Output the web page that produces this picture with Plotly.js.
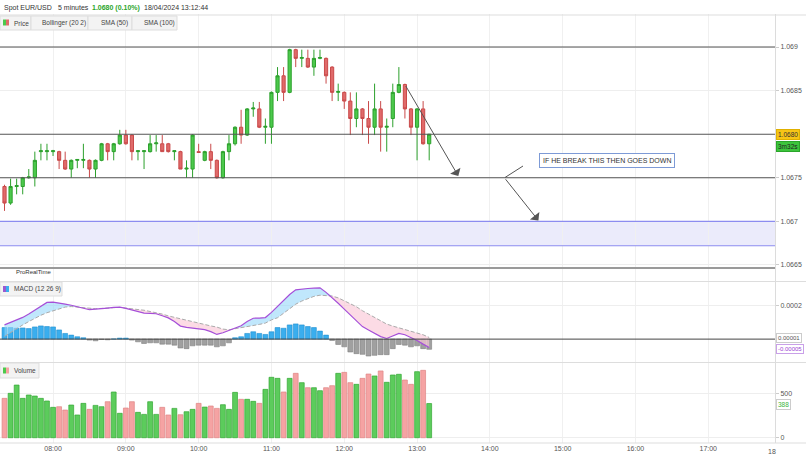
<!DOCTYPE html>
<html><head><meta charset="utf-8">
<script src="https://cdn.plot.ly/plotly-3.0.1.min.js"></script>
<style>html,body{margin:0;padding:0;background:#fff}#c{width:806px;height:457px}</style>
</head><body><div id="c"></div>
<script>
const times = ["07:20","07:25","07:30","07:35","07:40","07:45","07:50","07:55",
"08:00","08:05","08:10","08:15","08:20","08:25","08:30","08:35","08:40","08:45","08:50","08:55",
"09:00","09:05","09:10","09:15","09:20","09:25","09:30","09:35","09:40","09:45","09:50","09:55",
"10:00","10:05","10:10","10:15","10:20","10:25","10:30","10:35","10:40","10:45","10:50","10:55",
"11:00","11:05","11:10","11:15","11:20","11:25","11:30","11:35","11:40","11:45","11:50","11:55",
"12:00","12:05","12:10","12:15","12:20","12:25","12:30","12:35","12:40","12:45","12:50","12:55",
"13:00","13:05","13:10"];
const openP = [1.06740,1.06721,1.06740,1.06740,1.06750,1.06750,1.06780,1.06780,1.06780,1.06780,
1.06770,1.06760,1.06770,1.06770,1.06770,1.06760,1.06770,1.06789,1.06780,1.06789,
1.06799,1.06799,1.06780,1.06780,1.06780,1.06789,1.06789,1.06789,1.06780,1.06780,
1.06760,1.06760,1.06780,1.06770,1.06780,1.06770,1.06750,1.06780,1.06789,1.06808,
1.06799,1.06829,1.06829,1.06808,1.06808,1.06848,1.06867,1.06848,1.06897,1.06887,
1.06887,1.06877,1.06887,1.06887,1.06877,1.06848,1.06848,1.06838,1.06818,1.06829,
1.06818,1.06808,1.06829,1.06808,1.06818,1.06848,1.06857,1.06829,1.06808,1.06829,1.06789];
const highP = [1.06742,1.06749,1.06749,1.06751,1.06760,1.06780,1.06789,1.06789,1.06782,1.06781,
1.06780,1.06771,1.06771,1.06789,1.06771,1.06771,1.06790,1.06790,1.06790,1.06805,
1.06805,1.06800,1.06781,1.06781,1.06799,1.06799,1.06799,1.06790,1.06781,1.06781,
1.06770,1.06800,1.06789,1.06781,1.06789,1.06771,1.06781,1.06799,1.06809,1.06828,
1.06830,1.06837,1.06837,1.06818,1.06849,1.06877,1.06877,1.06898,1.06898,1.06897,
1.06897,1.06897,1.06897,1.06888,1.06878,1.06858,1.06849,1.06848,1.06848,1.06830,
1.06838,1.06858,1.06838,1.06818,1.06858,1.06877,1.06858,1.06830,1.06830,1.06838,1.06800];
const lowP = [1.06712,1.06719,1.06731,1.06731,1.06749,1.06740,1.06770,1.06770,1.06775,1.06760,
1.06759,1.06750,1.06761,1.06761,1.06750,1.06750,1.06769,1.06770,1.06770,1.06788,
1.06788,1.06770,1.06770,1.06760,1.06779,1.06780,1.06780,1.06779,1.06770,1.06760,
1.06750,1.06750,1.06779,1.06769,1.06760,1.06749,1.06749,1.06770,1.06787,1.06789,
1.06798,1.06820,1.06807,1.06789,1.06789,1.06838,1.06838,1.06847,1.06877,1.06877,
1.06876,1.06867,1.06886,1.06858,1.06838,1.06838,1.06829,1.06799,1.06808,1.06799,
1.06789,1.06799,1.06780,1.06780,1.06808,1.06847,1.06818,1.06799,1.06770,1.06788,1.06770];
const closeP = [1.06721,1.06740,1.06741,1.06750,1.06751,1.06770,1.06781,1.06781,1.06781,1.06770,
1.06760,1.06770,1.06771,1.06771,1.06760,1.06770,1.06789,1.06780,1.06789,1.06799,
1.06789,1.06780,1.06781,1.06781,1.06789,1.06790,1.06780,1.06780,1.06781,1.06760,
1.06761,1.06799,1.06779,1.06780,1.06770,1.06750,1.06780,1.06789,1.06808,1.06799,
1.06829,1.06830,1.06808,1.06809,1.06848,1.06867,1.06848,1.06897,1.06887,1.06888,
1.06877,1.06887,1.06888,1.06867,1.06848,1.06849,1.06838,1.06818,1.06829,1.06818,
1.06808,1.06829,1.06808,1.06809,1.06848,1.06857,1.06829,1.06808,1.06829,1.06789,1.06800];
const volume = [447,504,598,447,485,473,447,417,345,352,314,371,258,390,322,367,352,409,519,277,
337,409,288,265,409,265,345,258,333,261,295,322,390,348,360,333,375,322,515,436,
436,413,390,549,686,674,519,674,731,625,568,568,534,568,591,731,742,625,606,674,
723,701,758,629,712,720,655,606,750,765,388];
// MACD (12 26 9) values, in units of 0.00001
const macdLine = [8.5,10,11.5,13,15,17.5,20,22,22.2,21.8,21,20.3,19.6,18.5,17.6,17.8,18.2,18.6,19,19.2,
18.4,17.5,16.5,15.6,15.4,15.2,14,12.7,10.5,7.8,7.0,6.6,6.2,5.7,4.5,2.8,3.8,5.2,6.5,8.0,
10.5,12.5,12.6,12.9,16,19.6,23,26.7,29.5,30,30.3,30.5,30.7,28,25,21.5,18,14.5,10.5,7.5,
5.5,3.5,1.5,0.4,2,3.4,2.6,1.0,-0.8,-3,-5];
const signalLine = [1.6,4,6.5,8.5,10.5,12.5,14.3,15.8,17,18.2,19.2,19.5,19.2,18.7,18.2,18.2,18.4,18.7,18.9,19,
18.6,18,17.7,17.3,16.6,16,15,13.9,13,12,11.3,10.5,9.7,8.7,7.9,7.2,6,5.6,6.2,6.6,
7.3,8.2,8.8,9.6,11.5,12.8,15.6,18.5,20.9,22.8,24.3,25.6,26.3,26.2,25.8,24.7,23,21.5,19.4,17,
15,13.5,11,9,7.8,6.7,5.8,4.7,3.6,2.6,1];
const macdHist = [6.9,6.9,6.5,6.7,6.3,7.3,7.9,7.5,7.3,5.5,3.4,2.4,1.4,0.8,-0.6,-1.0,-0.2,-0.4,0.1,0.6,
0.6,-0.6,-1.6,-2.6,-2.2,-2.2,-3.0,-3.0,-3.6,-5.3,-5.7,-4.0,-3.6,-3.6,-3.6,-4.6,-4.0,-2.2,0.8,1.4,
3.4,4.4,3.4,2.8,4.4,6.9,6.5,8.5,9.1,8.5,7.5,6.9,4.8,2.4,-0.8,-3.2,-4.6,-7.7,-8.7,-9.1,
-10.1,-9.7,-9.3,-9.3,-5.7,-3.2,-3.6,-4.6,-4.0,-5.7,-6.1];
const priceTicks = [1.0665,1.067,1.0675,1.0685,1.069];
const hLines = [1.069,1.068,1.0675];
const zoneLow = 1.06672, zoneHigh = 1.0670, baseLine = 1.066466;

const DAY = "2024-04-18 ";
const X = times.map(t => DAY + t);
const U = 1e-5;
const macdV = macdLine.map(v => v*U), sigV = signalLine.map(v => v*U), histV = macdHist.map(v => v*U);
const W = 775, H = 443;
const px = v => v / W, py = v => (H - v) / H;
const FONT = "Liberation Sans, Arial, sans-serif";

const GREEN = '#4cc94c', GREEN_L = '#2ca02c', RED = '#e06a6a', RED_L = '#c94a4a';
const volCol = closeP.map((c,i) => c >= openP[i] ? '#5ccc5c' : '#f5a3a3');
const volLine = closeP.map((c,i) => c >= openP[i] ? '#33a833' : '#e08585');

const traces = [
  {type:'candlestick', x:X, open:openP, high:highP, low:lowP, close:closeP, xaxis:'x2', yaxis:'y',
   increasing:{line:{color:GREEN_L,width:1}, fillcolor:GREEN},
   decreasing:{line:{color:RED_L,width:1}, fillcolor:RED}, whiskerwidth:0, hoverinfo:'skip', showlegend:false},
  {type:'bar', x:X, y:histV, xaxis:'x3', yaxis:'y2', marker:{color:histV.map(v=>v>=0?'#3aaeee':'#a0a0a0'), line:{color:histV.map(v=>v>=0?'#1e8fd0':'#808080'), width:0.6}}, width:240000, showlegend:false, hoverinfo:'skip'},
  {type:'scatter', mode:'lines', x:X, y:sigV, xaxis:'x3', yaxis:'y2', line:{width:0}, showlegend:false, hoverinfo:'skip'},
  {type:'scatter', mode:'lines', x:X, y:macdV.map((v,i)=>Math.max(v,sigV[i])), xaxis:'x3', yaxis:'y2', line:{width:0}, fill:'tonexty', fillcolor:'rgba(150,215,250,0.6)', showlegend:false, hoverinfo:'skip'},
  {type:'scatter', mode:'lines', x:X, y:sigV, xaxis:'x3', yaxis:'y2', line:{width:0}, showlegend:false, hoverinfo:'skip'},
  {type:'scatter', mode:'lines', x:X, y:macdV.map((v,i)=>Math.min(v,sigV[i])), xaxis:'x3', yaxis:'y2', line:{width:0}, fill:'tonexty', fillcolor:'rgba(250,200,215,0.65)', showlegend:false, hoverinfo:'skip'},
  {type:'scatter', mode:'lines', x:X, y:sigV, xaxis:'x3', yaxis:'y2', line:{color:'#aaaaaa', width:1, dash:'4px,2px'}, showlegend:false, hoverinfo:'skip'},
  {type:'scatter', mode:'lines', x:X, y:macdV, xaxis:'x3', yaxis:'y2', line:{color:'#a64fd8', width:1.2}, showlegend:false, hoverinfo:'skip'},
  {type:'bar', x:X, y:volume, xaxis:'x', yaxis:'y3', marker:{color:volCol, line:{color:volLine, width:0.7}}, width:240000, showlegend:false, hoverinfo:'skip'}
];

const xr = [DAY+"07:16:17", DAY+"17:55:00"];
const xbase = {type:'date', range:xr, showgrid:true, gridcolor:'#f0f0f0', zeroline:false, showline:false, ticks:'', dtick:3600000, tick0:DAY+"08:00", tickformat:'%H:%M'};
const ybase = {side:'right', showgrid:true, gridcolor:'#eeeeee', zeroline:false, showline:true, linecolor:'#dcdcdc', ticks:'outside', ticklen:3, tickcolor:'#cccccc', tickfont:{size:7, color:'#555', family:FONT}, fixedrange:true};

const shapes = [];
hLines.forEach(v => shapes.push({type:'line', xref:'paper', x0:0, x1:1, yref:'y', y0:v, y1:v, line:{color:'#555', width:1.1}}));
shapes.push({type:'rect', xref:'paper', x0:0, x1:1, yref:'y', y0:zoneLow, y1:zoneHigh, fillcolor:'#ebebfb', line:{width:0}, layer:'below'});
shapes.push({type:'line', xref:'paper', x0:0, x1:1, yref:'y', y0:zoneHigh, y1:zoneHigh, line:{color:'#8c8cf0', width:1.2}});
shapes.push({type:'line', xref:'paper', x0:0, x1:1, yref:'y', y0:zoneLow, y1:zoneLow, line:{color:'#8c8cf0', width:1.2}});
shapes.push({type:'line', xref:'paper', x0:0, x1:1, yref:'y', y0:baseLine, y1:baseLine, line:{color:'#9a9a9a', width:2}});
shapes.push({type:'line', xref:'paper', x0:0, x1:1, yref:'y2', y0:0, y1:0, line:{color:'#444', width:1}});
// panel separators
[py(15), py(281.5), py(362.5), 0].forEach(v => shapes.push({type:'line', xref:'paper', x0:0, x1:1.04, yref:'paper', y0:v, y1:v, line:{color:'#dddddd', width:1}}));
// header tabs
[[0,31],[31,88],[88,132],[132,177]].forEach(b => shapes.push({type:'rect', xref:'paper', yref:'paper', x0:px(b[0]), x1:px(b[1]), y0:py(30), y1:py(16), fillcolor:'#f3f3f3', line:{color:'#dddddd', width:1}}));
shapes.push({type:'rect', xref:'paper', yref:'paper', x0:px(0), x1:px(62), y0:py(296), y1:py(282), fillcolor:'#f3f3f3', line:{color:'#dddddd', width:1}});
shapes.push({type:'rect', xref:'paper', yref:'paper', x0:px(0), x1:px(39), y0:py(378), y1:py(363), fillcolor:'#f3f3f3', line:{color:'#dddddd', width:1}});
// legend icons
const icon = (x, y, c1, c2) => {
  shapes.push({type:'rect', xref:'paper', yref:'paper', x0:px(x), x1:px(x+3), y0:py(y+6), y1:py(y), fillcolor:c1, line:{width:0}});
  shapes.push({type:'rect', xref:'paper', yref:'paper', x0:px(x+3), x1:px(x+6), y0:py(y+6), y1:py(y), fillcolor:c2, line:{width:0}});
};
icon(3, 19.5, '#4cc94c', '#e06a6a');
icon(3, 286, '#9b59d0', '#3aaeee');
icon(3, 367.5, '#4cc94c', '#f5a3a3');
// short line from note box toward arrow start
shapes.push({type:'line', xref:'paper', yref:'paper', x0:px(523), y0:py(166), x1:px(505), y1:py(177.5), line:{color:'#555', width:1}});

const ann = (x, y, text, opt={}) => Object.assign({xref:'paper', yref:'paper', x:px(x), y:py(y), text, showarrow:false, xanchor:'left', yanchor:'middle', font:{size:8, color:'#333', family:FONT}}, opt);
const HF = {size:7, color:'#333', family:FONT};
const TF = {size:6.5, color:'#444', family:FONT};
const annotations = [
  ann(2, 8, 'Spot EUR/USD', {font:HF}),
  ann(56, 8, '5 minutes', {font:HF}),
  ann(90, 8, '<b>1.0680 (0.10%)</b>', {font:{size:7, color:'#2aa52a', family:FONT}}),
  ann(142, 8, '18/04/2024 13:12:44', {font:HF}),
  ann(12, 23, 'Price', {font:TF}),
  ann(40, 23, 'Bollinger (20 2)', {font:TF}),
  ann(99, 23, 'SMA (50)', {font:TF}),
  ann(142, 23, 'SMA (100)', {font:TF}),
  ann(12, 289, 'MACD (12 26 9)', {font:TF}),
  ann(12, 370.5, 'Volume', {font:TF}),
  ann(14, 271.5, 'ProRealTime', {font:{size:6, color:'#333', family:FONT}}),
  ann(606.5, 160.5, 'IF HE BREAK THIS THEN GOES DOWN', {xanchor:'center', font:{size:7, color:'#333', family:FONT}, bgcolor:'#ffffff', bordercolor:'#7d9ad6', borderwidth:1, borderpad:3}),
  ann(776, 134.5, '1.0680', {font:{size:6.5, color:'#333', family:FONT}, bgcolor:'#f6c516', bordercolor:'#e0b000', borderwidth:1, borderpad:1}),
  ann(776, 146.5, '3m32s', {font:{size:6.5, color:'#222', family:FONT}, bgcolor:'#3cc43c', bordercolor:'#2aa52a', borderwidth:1, borderpad:1}),
  ann(775.5, 337.5, '0.00001', {font:{size:6, color:'#555', family:FONT}, bgcolor:'#ffffff', bordercolor:'#cccccc', borderwidth:1, borderpad:1}),
  ann(775.5, 348.5, '-0.00005', {font:{size:6, color:'#9b3fd4', family:FONT}, bgcolor:'#ffffff', bordercolor:'#c9a0e8', borderwidth:1, borderpad:1}),
  ann(776, 404, '388', {font:{size:6.5, color:'#3cb43c', family:FONT}, bgcolor:'#ffffff', bordercolor:'#cccccc', borderwidth:1, borderpad:1}),
  ann(766, 451, '18', {font:{size:7, color:'#555', family:FONT}}),
  {xref:'x2', yref:'y', axref:'x2', ayref:'y', x:DAY+"13:34", y:1.06752, ax:DAY+"12:50", ay:1.06857, showarrow:true, arrowhead:1, arrowsize:2, arrowwidth:1, arrowcolor:'#555', text:''},
  {xref:'x2', yref:'y', axref:'x2', ayref:'y', x:DAY+"14:40", y:1.06701, ax:DAY+"14:12", ay:1.06750, showarrow:true, arrowhead:1, arrowsize:2, arrowwidth:1, arrowcolor:'#555', text:''}
];

const layout = {
  width:806, height:457, margin:{l:0, r:31, t:0, b:14}, paper_bgcolor:'#ffffff', plot_bgcolor:'#ffffff',
  font:{family:FONT, size:7, color:'#555'}, showlegend:false, boxgap:0.25, bargap:0.2, dragmode:false,
  xaxis: Object.assign({}, xbase, {anchor:'y3', domain:[0,1], tickfont:{size:7, color:'#555', family:FONT}, ticklen:0}),
  xaxis2: Object.assign({}, xbase, {anchor:'y', domain:[0,1], showticklabels:false, rangeslider:{visible:false}}),
  xaxis3: Object.assign({}, xbase, {anchor:'y2', domain:[0,1], showticklabels:false}),
  yaxis: Object.assign({}, ybase, {anchor:'x2', domain:[py(281.5), py(14)], range:[1.066310, 1.069379], tickvals:priceTicks, ticktext:priceTicks.map(String)}),
  yaxis2: Object.assign({}, ybase, {anchor:'x3', domain:[py(362.5), py(281.5)], range:[-0.000140, 0.000345], tickvals:[0.0002], ticktext:['0.0002']}),
  yaxis3: Object.assign({}, ybase, {anchor:'x', domain:[0, py(362.5)], range:[-60, 854], tickvals:[0,500], ticktext:['0','500']}),
  shapes, annotations
};
Plotly.newPlot('c', traces, layout, {displayModeBar:false, staticPlot:true});
</script></body></html>
